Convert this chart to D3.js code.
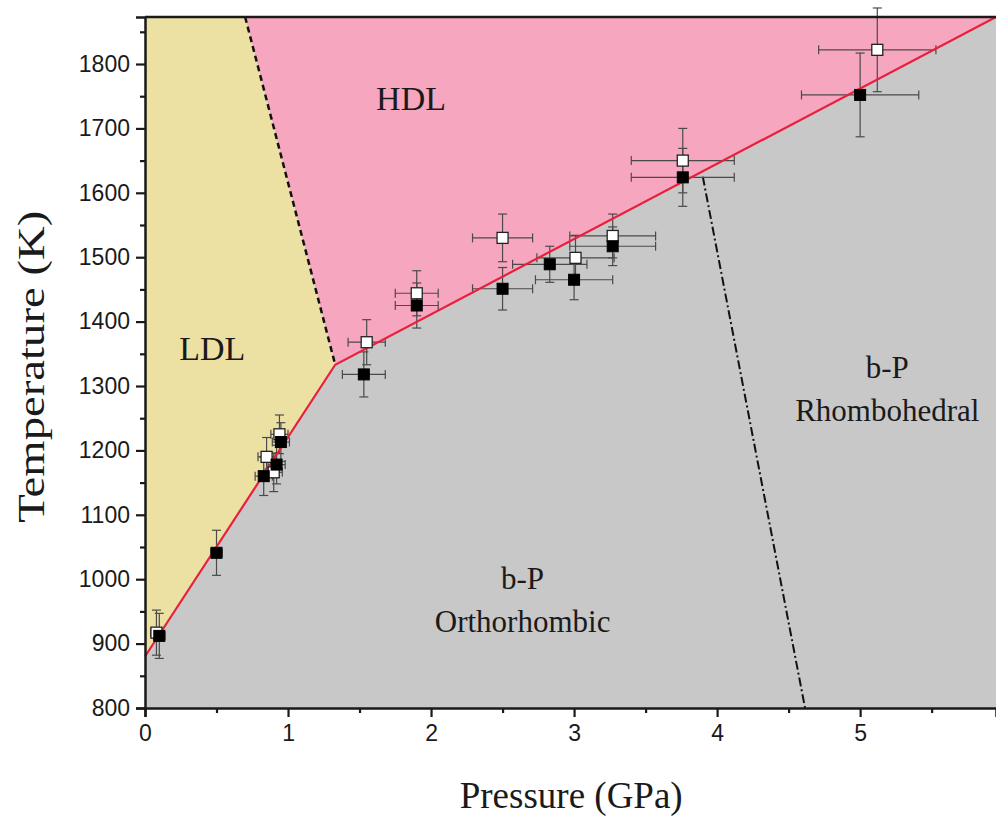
<!DOCTYPE html>
<html>
<head>
<meta charset="utf-8">
<script src="https://cdn.jsdelivr.net/npm/d3@7"></script>
<style>
  html, body { margin: 0; padding: 0; background: #fff; }
  svg { display: block; }
</style>
</head>
<body>
<svg id="chart" width="996" height="823"></svg>
<script>
// Phase diagram of phosphorus: pressure (GPa) vs temperature (K)

// Axis ranges and tick values
const pressureDomain = [0, 5.95];
const temperatureDomain = [800, 1873];
const xMajorTicks = [0, 1, 2, 3, 4, 5];
const xMinorTicks = [0.5, 1.5, 2.5, 3.5, 4.5, 5.5];
const yMajorTicks = [800, 900, 1000, 1100, 1200, 1300, 1400, 1500, 1600, 1700, 1800];
const yMinorTicks = [850, 950, 1050, 1150, 1250, 1350, 1450, 1550, 1650, 1750, 1850];

// Phase boundaries [pressure, temperature]
const meltingCurve = [[0, 880], [1.33, 1333], [5.95, 1873]];
const liquidLiquidBoundary = [[0.70, 1873], [1.33, 1333]];
const solidSolidBoundary = [[3.90, 1625], [4.615, 800]];

// Measurements: [pressure, temperature, pressure error, temperature error]
const solidPoints = [
  [0.10, 912, 0.04, 35],
  [0.50, 1041, 0.04, 35],
  [0.83, 1160, 0.06, 30],
  [0.92, 1178, 0.06, 30],
  [0.95, 1213, 0.06, 30],
  [1.53, 1318, 0.15, 35],
  [1.90, 1425, 0.15, 35],
  [2.50, 1451, 0.21, 33],
  [2.83, 1489, 0.26, 28],
  [3.00, 1465, 0.27, 31],
  [3.27, 1517, 0.30, 30],
  [3.76, 1624, 0.36, 45],
  [5.00, 1752, 0.41, 65]
];
const openPoints = [
  [0.08, 917, 0.04, 35],
  [0.85, 1190, 0.06, 30],
  [0.90, 1166, 0.06, 30],
  [0.94, 1225, 0.06, 30],
  [1.55, 1368, 0.13, 35],
  [1.90, 1444, 0.15, 35],
  [2.50, 1530, 0.21, 37],
  [3.01, 1499, 0.27, 35],
  [3.27, 1533, 0.30, 34],
  [3.76, 1650, 0.36, 50],
  [5.12, 1822, 0.41, 65]
];

// Region labels [pressure, temperature, lines]
const regionLabels = [
  { p: 1.86, t: 1728, lines: ["HDL"] },
  { p: 0.47, t: 1340, lines: ["LDL"] },
  { p: 2.64, t: 985, lines: ["b-P", "Orthorhombic"] },
  { p: 5.19, t: 1312, lines: ["b-P", "Rhombohedral"] }
];

const margin = { top: 17, left: 145, right: 0, bottom: 115 };
const W = 996, H = 823;
const innerW = W - margin.left - margin.right;
const innerH = H - margin.top - margin.bottom;

const svg = d3.select("#chart");
const x = d3.scaleLinear().domain(pressureDomain).range([0, innerW]);
const y = d3.scaleLinear().domain(temperatureDomain).range([innerH, 0]);

const g = svg.append("g").attr("transform", `translate(${margin.left},${margin.top})`);
const [p0, p1] = pressureDomain;
const [t0, t1] = temperatureDomain;

const poly = d3.line().x(d => x(d[0])).y(d => y(d[1]));

// Phase regions
const solidRegion = [[p0, t0], ...meltingCurve, [p1, t0]];
const ldlRegion = [[p0, meltingCurve[0][1]], [p0, t1], liquidLiquidBoundary[0], liquidLiquidBoundary[1]];
const hdlRegion = [liquidLiquidBoundary[0], [p1, t1], meltingCurve[2], meltingCurve[1]];

g.append("path").attr("d", poly(solidRegion) + "Z").attr("fill", "#c8c8c8");
g.append("path").attr("d", poly(ldlRegion) + "Z").attr("fill", "#ece1a3");
g.append("path").attr("d", poly(hdlRegion) + "Z").attr("fill", "#f7a6bf");

// Boundaries
g.append("path").attr("d", poly(liquidLiquidBoundary))
  .attr("fill", "none").attr("stroke", "#111").attr("stroke-width", 2.5)
  .attr("stroke-dasharray", "6,4");
g.append("path").attr("d", poly(solidSolidBoundary))
  .attr("fill", "none").attr("stroke", "#111").attr("stroke-width", 2)
  .attr("stroke-dasharray", "9,3,2,3");

// Error bars
function drawErrors(data) {
  const cap = 4.5;
  const eg = g.append("g").attr("stroke", "#4a4a4a").attr("stroke-width", 1.2).attr("fill", "none");
  data.forEach(d => {
    const cx = x(d[0]), cy = y(d[1]);
    const xl = x(d[0] - d[2]), xr = x(d[0] + d[2]);
    const yt = y(d[1] + d[3]), yb = y(d[1] - d[3]);
    eg.append("line").attr("x1", xl).attr("x2", xr).attr("y1", cy).attr("y2", cy);
    eg.append("line").attr("x1", xl).attr("x2", xl).attr("y1", cy - cap).attr("y2", cy + cap);
    eg.append("line").attr("x1", xr).attr("x2", xr).attr("y1", cy - cap).attr("y2", cy + cap);
    eg.append("line").attr("x1", cx).attr("x2", cx).attr("y1", yt).attr("y2", yb);
    eg.append("line").attr("x1", cx - cap).attr("x2", cx + cap).attr("y1", yt).attr("y2", yt);
    eg.append("line").attr("x1", cx - cap).attr("x2", cx + cap).attr("y1", yb).attr("y2", yb);
  });
}
drawErrors(openPoints);
drawErrors(solidPoints);

// Melting curve
g.append("path").attr("d", poly(meltingCurve))
  .attr("fill", "none").attr("stroke", "#e8203c").attr("stroke-width", 2.2);

// Markers
const sq = 11;
g.append("g").selectAll("rect").data(openPoints).join("rect")
  .attr("x", d => x(d[0]) - sq / 2).attr("y", d => y(d[1]) - sq / 2)
  .attr("width", sq).attr("height", sq)
  .attr("fill", "#fff").attr("stroke", "#222").attr("stroke-width", 1.3);
g.append("g").selectAll("rect").data(solidPoints).join("rect")
  .attr("x", d => x(d[0]) - sq / 2).attr("y", d => y(d[1]) - sq / 2)
  .attr("width", sq).attr("height", sq)
  .attr("fill", "#000").attr("stroke", "#000").attr("stroke-width", 1);

// Region labels
regionLabels.forEach(r => {
  const txt = g.append("text")
    .attr("x", x(r.p)).attr("y", y(r.t))
    .attr("text-anchor", "middle")
    .attr("font-family", "'Liberation Serif', 'Times New Roman', serif")
    .attr("fill", "#1a1a1a");
  if (r.lines.length === 1) {
    txt.attr("font-size", 34).text(r.lines[0]);
  } else {
    txt.attr("font-size", 31);
    r.lines.forEach((l, i) => {
      txt.append("tspan").attr("x", x(r.p)).attr("dy", i === 0 ? 0 : 43).text(l);
    });
  }
});

// Axes
const axisColor = "#1a1a1a";
g.append("g").attr("transform", `translate(0,${innerH})`)
  .call(d3.axisBottom(x).tickValues(xMajorTicks).tickSize(9).tickPadding(8).tickFormat(d3.format("d")));
g.append("g").attr("transform", `translate(0,${innerH})`)
  .call(d3.axisBottom(x).tickValues(xMinorTicks).tickSize(5).tickFormat(""))
  .call(a => a.select(".domain").remove());
g.append("g")
  .call(d3.axisLeft(y).tickValues(yMajorTicks).tickSize(9).tickPadding(6).tickFormat(d3.format("d")));
g.append("g")
  .call(d3.axisLeft(y).tickValues(yMinorTicks).tickSize(5).tickFormat(""))
  .call(a => a.select(".domain").remove());

g.selectAll(".domain").attr("stroke", axisColor).attr("stroke-width", 2.5);
g.selectAll(".tick line").attr("stroke", axisColor).attr("stroke-width", 2.2);
g.selectAll(".tick text")
  .attr("font-family", "'Liberation Sans', Arial, sans-serif")
  .attr("font-size", 23).attr("fill", axisColor);

// Top frame line
g.append("line").attr("x1", 0).attr("x2", innerW).attr("y1", 0).attr("y2", 0)
  .attr("stroke", axisColor).attr("stroke-width", 2.5);

// Axis titles
svg.append("text")
  .attr("x", margin.left + x(2.98)).attr("y", 808)
  .attr("text-anchor", "middle")
  .attr("font-family", "'Liberation Serif', 'Times New Roman', serif")
  .attr("font-size", 37).attr("fill", axisColor)
  .text("Pressure (GPa)");
svg.append("text")
  .attr("transform", `translate(44,${margin.top + y(1330)}) rotate(-90)`)
  .attr("text-anchor", "middle")
  .attr("font-family", "'Liberation Serif', 'Times New Roman', serif")
  .attr("font-size", 38).attr("fill", axisColor)
  .attr("textLength", 312).attr("lengthAdjust", "spacingAndGlyphs")
  .text("Temperature (K)");
</script>
</body>
</html>
